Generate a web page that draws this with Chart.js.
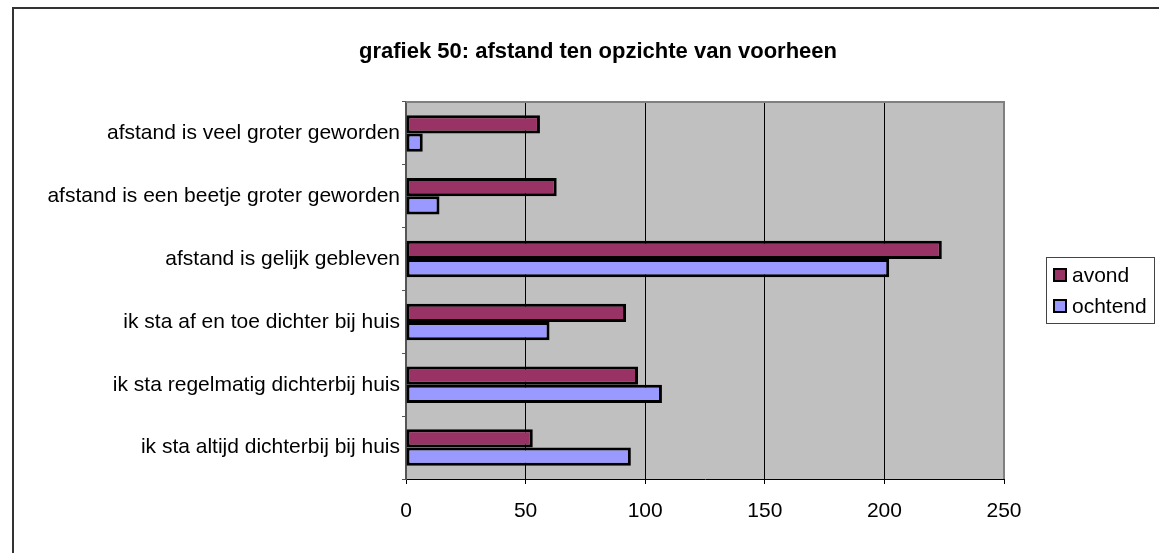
<!DOCTYPE html>
<html>
<head>
<meta charset="utf-8">
<script src="https://cdn.jsdelivr.net/npm/chart.js@4"></script>
<style>
    body { margin: 0; background: #fff; }
    #wrap { position: relative; width: 1159px; height: 553px; overflow: hidden; }
    #frame { position: absolute; left: 12px; top: 7px; width: 1200px; height: 600px;
             border-left: 2px solid #333; border-top: 2px solid #333; }
    #chart { position: absolute; left: 0; top: 0; }
</style>
</head>
<body>
<div id="wrap">
    <div id="frame"></div>
    <canvas id="chart" width="1159" height="553"></canvas>
</div>
<script>
const chartTitle = 'grafiek 50: afstand ten opzichte van voorheen';
const categories = [
    'afstand is veel groter geworden',
    'afstand is een beetje groter geworden',
    'afstand is gelijk gebleven',
    'ik sta af en toe dichter bij huis',
    'ik sta regelmatig dichterbij huis',
    'ik sta altijd dichterbij bij huis'
];
const avondValues = [56, 63, 224, 92, 97, 53];
const ochtendValues = [7, 14, 202, 60, 107, 94];
const xTicks = [0, 50, 100, 150, 200, 250];

const fontFamily = '"Liberation Sans", Arial, sans-serif';

// grijze achtergrond + rand van het plotvlak, titel en legenda
const excelLook = {
    id: 'excelLook',
    beforeDraw(chart) {
        const { ctx, chartArea: a } = chart;
        ctx.save();
        ctx.fillStyle = '#c0c0c0';
        ctx.fillRect(a.left, a.top, a.right - a.left, a.bottom - a.top);
        ctx.restore();
    },
    beforeDatasetsDraw(chart) {
        const { ctx, chartArea: a } = chart;
        ctx.save();
        ctx.strokeStyle = '#808080';
        ctx.lineWidth = 2;
        ctx.beginPath();
        ctx.moveTo(a.left, a.top);
        ctx.lineTo(a.right, a.top);
        ctx.lineTo(a.right, a.bottom);
        ctx.stroke();
        ctx.restore();
    },
    afterDraw(chart) {
        const { ctx } = chart;
        ctx.save();
        ctx.fillStyle = '#000';
        ctx.font = 'bold 22px ' + fontFamily;
        ctx.textAlign = 'center';
        ctx.textBaseline = 'alphabetic';
        ctx.fillText(chartTitle, 598, 58);

        // legenda
        const box = { x: 1046, y: 257, w: 108, h: 66 };
        ctx.fillStyle = '#fff';
        ctx.fillRect(box.x, box.y, box.w, box.h);
        ctx.strokeStyle = '#444';
        ctx.lineWidth = 1;
        ctx.strokeRect(box.x + 0.5, box.y + 0.5, box.w, box.h);
        ctx.font = '21px ' + fontFamily;
        ctx.textAlign = 'left';
        ctx.textBaseline = 'middle';
        chart.data.datasets.forEach((ds, i) => {
            const cy = box.y + 18 + i * 31;
            ctx.fillStyle = ds.backgroundColor;
            ctx.fillRect(box.x + 8, cy - 6, 12, 12);
            ctx.strokeStyle = '#000';
            ctx.lineWidth = 2;
            ctx.strokeRect(box.x + 8, cy - 6, 12, 12);
            ctx.fillStyle = '#000';
            ctx.fillText(ds.label, box.x + 26, cy + 1);
        });
        ctx.restore();
    }
};

new Chart(document.getElementById('chart'), {
    type: 'bar',
    data: {
        labels: categories,
        datasets: [
            {
                label: 'avond',
                data: avondValues,
                backgroundColor: '#993366',
                borderColor: '#000',
                borderWidth: 3,
                borderSkipped: false,
                categoryPercentage: 0.58,
                barPercentage: 1
            },
            {
                label: 'ochtend',
                data: ochtendValues,
                backgroundColor: '#9999ff',
                borderColor: '#000',
                borderWidth: 3,
                borderSkipped: false,
                categoryPercentage: 0.58,
                barPercentage: 1
            }
        ]
    },
    options: {
        indexAxis: 'y',
        responsive: false,
        animation: false,
        layout: {
            padding: { top: 102, right: 155, bottom: 0, left: 0 }
        },
        scales: {
            x: {
                min: 0,
                max: 250,
                afterBuildTicks: function(scale) {
                    scale.ticks = xTicks.map(v => ({ value: v }));
                },
                afterFit: function(scale) {
                    scale.height = 74;
                },
                grid: {
                    color: function(ctx) {
                        const v = ctx.tick && ctx.tick.value;
                        return (v === 0 || v === 250) ? 'rgba(0,0,0,0)' : '#000';
                    },
                    tickColor: '#000',
                    lineWidth: 1,
                    tickLength: 5
                },
                border: { display: true, color: '#000', width: 1 },
                ticks: {
                    color: '#000',
                    padding: 15,
                    font: { family: fontFamily, size: 21 }
                }
            },
            y: {
                afterFit: function(scale) {
                    scale.width = 406;
                },
                grid: {
                    offset: true,
                    drawOnChartArea: false,
                    color: '#555',
                    tickLength: 4
                },
                border: { display: true, color: '#555', width: 2 },
                ticks: {
                    color: '#000',
                    padding: 2,
                    font: { family: fontFamily, size: 21 }
                }
            }
        },
        plugins: {
            legend: { display: false },
            title: { display: false },
            tooltip: { enabled: false }
        }
    },
    plugins: [excelLook]
});
</script>
</body>
</html>
